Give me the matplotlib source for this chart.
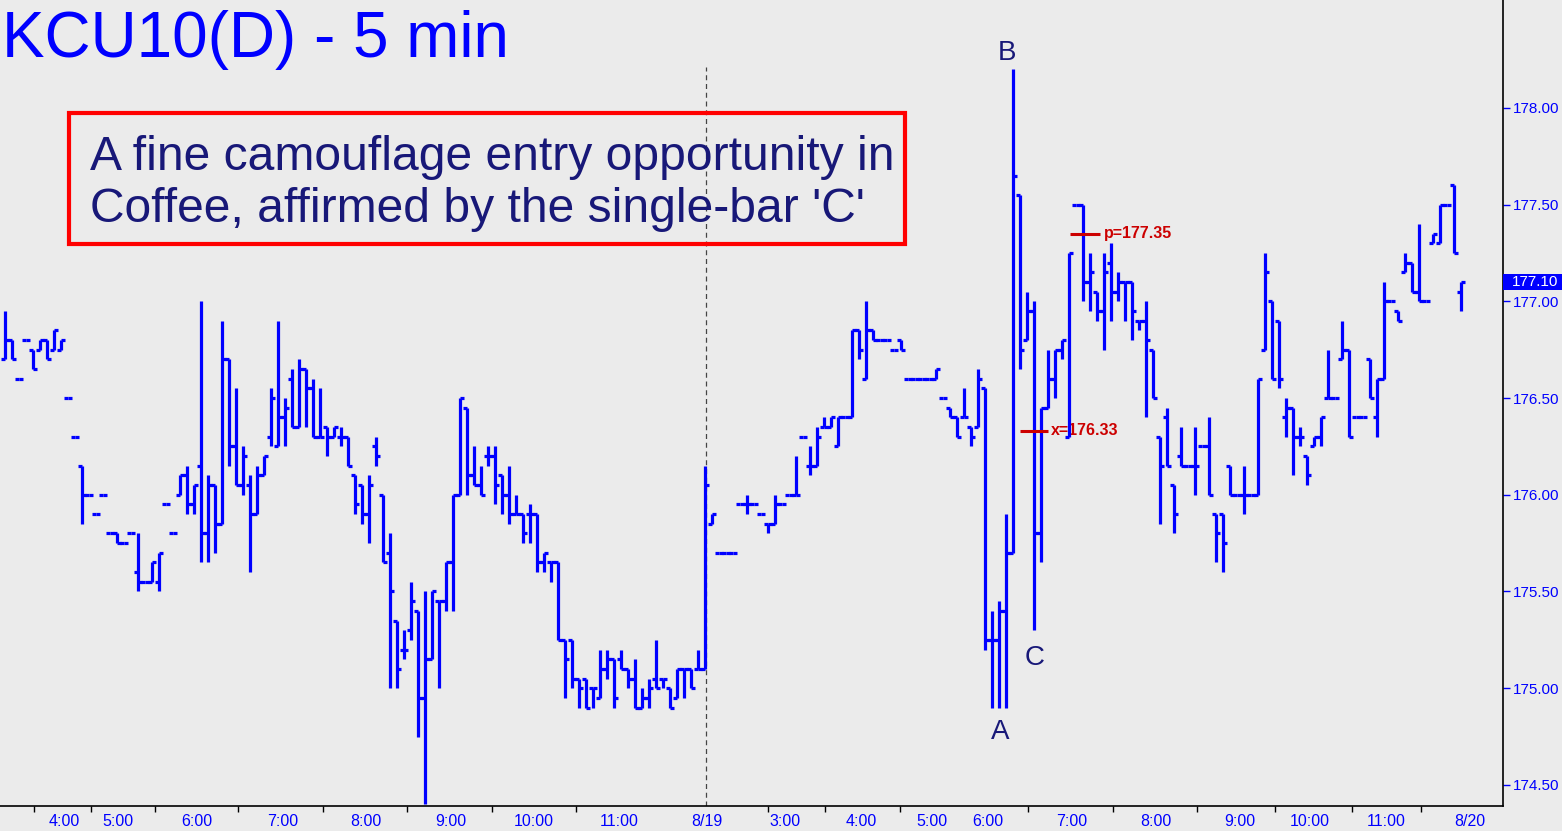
import matplotlib.pyplot as plt
import matplotlib.transforms as mtrans
from matplotlib.patches import Rectangle
import numpy as np

# 5-minute OHLC bars, KCU10, 8/18 - 8/19 sessions
opens = [176.70, 176.80, 176.60, 176.80, 176.75, 176.75, 176.80, 176.75, 176.75, 176.50,
         176.30, 176.15, 176.00, 175.90, 176.00, 175.80, 175.80, 175.75, 175.80, 175.60,
         175.55, 175.55, 175.55, 175.95, 175.80, 176.00, 176.10, 175.95, 176.15, 175.80,
         176.05, 175.85, 176.70, 176.25, 176.05, 176.05, 175.90, 176.10, 176.30, 176.25,
         176.40, 176.60, 176.35, 176.65, 176.55, 176.30, 176.35, 176.30, 176.30, 176.30,
         176.10, 176.05, 175.90, 176.25, 176.00, 175.70, 175.35, 175.20, 175.30, 175.40,
         174.95, 175.15, 175.45, 175.45, 175.65, 176.00, 176.45, 176.10, 176.05, 176.20,
         176.20, 176.10, 176.00, 175.90, 175.90, 175.90, 175.90, 175.65, 175.65, 175.65,
         175.25, 175.25, 175.05, 175.05, 175.00, 174.95, 175.10, 175.15, 175.15, 175.10,
         175.05, 174.90, 174.95, 175.05, 175.05, 175.00, 174.95, 175.10, 175.10, 175.10,
         175.10, 175.85, 175.70, 175.70, 175.70, 175.95, 175.95, 175.95, 175.90, 175.85,
         175.85, 175.95, 176.00, 176.00, 176.30, 176.15, 176.15, 176.35, 176.35, 176.25,
         176.40, 176.40, 176.85, 176.60, 176.85, 176.80, 176.80, 176.75, 176.80, 176.60,
         176.60, 176.60, 176.60, 176.60, 176.50, 176.45, 176.40, 176.40, 176.35, 176.35,
         176.55, 175.25, 175.25, 175.40, 175.70, 177.55, 176.80, 176.95, 175.80, 176.45,
         176.60, 176.75, 176.30, 177.50, 177.50, 177.10, 177.05, 176.95, 177.20, 177.05,
         177.10, 177.10, 176.90, 176.90, 176.75, 176.30, 176.40, 176.05, 176.20, 176.15,
         176.15, 176.25, 176.25, 175.90, 175.90, 176.15, 176.00, 176.00, 176.00, 176.00,
         176.75, 177.00, 176.90, 176.40, 176.45, 176.30, 176.20, 176.25, 176.30, 176.50,
         176.50, 176.70, 176.75, 176.40, 176.40, 176.70, 176.40, 176.60, 177.00, 176.95,
         177.15, 177.20, 177.05, 177.00, 177.30, 177.30, 177.50, 177.60, 177.05]

highs = [176.95, 176.80, 176.60, 176.80, 176.75, 176.80, 176.80, 176.85, 176.80, 176.50,
         176.30, 176.15, 176.00, 175.90, 176.00, 175.80, 175.80, 175.75, 175.80, 175.80,
         175.55, 175.65, 175.70, 175.95, 175.80, 176.10, 176.15, 176.05, 177.00, 176.10,
         176.05, 176.90, 176.70, 176.55, 176.25, 176.10, 176.15, 176.20, 176.55, 176.90,
         176.50, 176.65, 176.70, 176.65, 176.60, 176.55, 176.35, 176.35, 176.35, 176.30,
         176.10, 176.05, 176.10, 176.30, 176.00, 175.80, 175.35, 175.30, 175.55, 175.40,
         175.50, 175.50, 175.45, 175.65, 176.00, 176.50, 176.45, 176.25, 176.15, 176.25,
         176.25, 176.10, 176.15, 176.00, 175.90, 175.95, 175.90, 175.70, 175.65, 175.65,
         175.25, 175.25, 175.05, 175.05, 175.00, 175.20, 175.20, 175.15, 175.20, 175.10,
         175.15, 175.00, 175.05, 175.25, 175.05, 175.00, 175.10, 175.10, 175.10, 175.20,
         176.15, 175.90, 175.70, 175.70, 175.70, 175.95, 176.00, 175.95, 175.90, 175.85,
         176.00, 175.95, 176.00, 176.20, 176.30, 176.25, 176.35, 176.40, 176.40, 176.40,
         176.40, 176.85, 176.85, 177.00, 176.85, 176.80, 176.80, 176.75, 176.80, 176.60,
         176.60, 176.60, 176.60, 176.65, 176.50, 176.45, 176.40, 176.55, 176.35, 176.65,
         176.55, 175.40, 175.45, 175.90, 178.20, 177.55, 177.05, 177.00, 176.45, 176.75,
         176.75, 176.80, 177.25, 177.50, 177.50, 177.25, 177.05, 177.25, 177.30, 177.15,
         177.10, 177.10, 176.90, 177.00, 176.75, 176.30, 176.45, 176.05, 176.35, 176.15,
         176.35, 176.25, 176.40, 175.90, 175.90, 176.15, 176.00, 176.15, 176.00, 176.60,
         177.25, 177.00, 176.90, 176.50, 176.45, 176.35, 176.20, 176.30, 176.40, 176.75,
         176.50, 176.90, 176.75, 176.40, 176.40, 176.70, 176.60, 177.10, 177.00, 176.95,
         177.25, 177.20, 177.40, 177.00, 177.35, 177.50, 177.50, 177.60, 177.10]

lows = [176.70, 176.70, 176.60, 176.80, 176.65, 176.75, 176.70, 176.75, 176.75, 176.50,
        176.30, 175.85, 176.00, 175.90, 176.00, 175.80, 175.75, 175.75, 175.80, 175.50,
        175.55, 175.55, 175.50, 175.95, 175.80, 176.00, 175.90, 175.90, 175.65, 175.65,
        175.70, 175.85, 176.15, 176.05, 176.00, 175.60, 175.90, 176.10, 176.25, 176.25,
        176.25, 176.35, 176.35, 176.35, 176.30, 176.30, 176.20, 176.30, 176.25, 176.15,
        175.90, 175.85, 175.75, 176.15, 175.65, 175.00, 175.00, 175.15, 175.25, 174.75,
        174.40, 175.15, 175.00, 175.40, 175.40, 176.00, 176.00, 176.05, 176.00, 176.15,
        175.95, 175.90, 175.85, 175.90, 175.75, 175.75, 175.60, 175.60, 175.55, 175.25,
        174.95, 175.00, 174.90, 174.90, 174.90, 174.95, 175.05, 174.90, 175.10, 175.00,
        174.90, 174.90, 174.90, 175.00, 175.00, 174.90, 174.95, 174.95, 175.00, 175.10,
        175.10, 175.85, 175.70, 175.70, 175.70, 175.95, 175.90, 175.95, 175.90, 175.80,
        175.85, 175.95, 176.00, 176.00, 176.30, 176.10, 176.15, 176.35, 176.35, 176.25,
        176.40, 176.40, 176.70, 176.60, 176.80, 176.80, 176.80, 176.75, 176.75, 176.60,
        176.60, 176.60, 176.60, 176.60, 176.50, 176.40, 176.30, 176.40, 176.25, 176.35,
        175.20, 174.90, 174.90, 174.90, 175.70, 176.65, 176.80, 175.30, 175.65, 176.45,
        176.50, 176.70, 176.30, 177.50, 177.00, 176.95, 176.90, 176.75, 176.90, 177.00,
        176.90, 176.80, 176.85, 176.40, 176.50, 175.85, 176.15, 175.80, 176.15, 176.15,
        176.00, 176.25, 176.00, 175.65, 175.60, 176.00, 176.00, 175.90, 176.00, 176.00,
        176.75, 176.60, 176.55, 176.30, 176.10, 176.25, 176.05, 176.25, 176.25, 176.50,
        176.50, 176.70, 176.30, 176.40, 176.40, 176.50, 176.30, 176.60, 177.00, 176.90,
        177.15, 177.05, 177.00, 177.00, 177.30, 177.30, 177.50, 177.25, 176.95]

closes = [176.80, 176.70, 176.60, 176.80, 176.65, 176.80, 176.70, 176.85, 176.80, 176.50,
          176.30, 176.00, 176.00, 175.90, 176.00, 175.80, 175.75, 175.75, 175.80, 175.55,
          175.55, 175.65, 175.70, 175.95, 175.80, 176.10, 175.95, 176.05, 175.80, 176.05,
          175.85, 176.70, 176.25, 176.05, 176.20, 175.90, 176.10, 176.20, 176.50, 176.40,
          176.45, 176.35, 176.65, 176.55, 176.30, 176.30, 176.30, 176.35, 176.30, 176.15,
          175.95, 175.90, 176.05, 176.20, 175.65, 175.50, 175.10, 175.20, 175.45, 174.95,
          175.15, 175.50, 175.45, 175.65, 176.00, 176.50, 176.10, 176.05, 176.00, 176.20,
          176.05, 176.00, 175.90, 175.90, 175.80, 175.90, 175.65, 175.70, 175.65, 175.25,
          175.15, 175.05, 175.00, 174.90, 175.00, 175.10, 175.15, 174.95, 175.10, 175.05,
          174.90, 174.95, 175.00, 175.00, 175.05, 174.90, 175.10, 175.10, 175.00, 175.10,
          176.05, 175.90, 175.70, 175.70, 175.70, 175.95, 175.95, 175.95, 175.90, 175.85,
          175.95, 175.95, 176.00, 176.00, 176.30, 176.15, 176.30, 176.35, 176.40, 176.40,
          176.40, 176.85, 176.75, 176.85, 176.80, 176.80, 176.80, 176.75, 176.75, 176.60,
          176.60, 176.60, 176.60, 176.65, 176.50, 176.40, 176.30, 176.40, 176.30, 176.60,
          175.25, 175.25, 175.40, 175.70, 177.65, 176.75, 176.95, 175.80, 176.45, 176.60,
          176.75, 176.80, 177.25, 177.50, 177.10, 177.15, 176.95, 177.15, 177.05, 177.10,
          177.10, 176.95, 176.90, 176.80, 176.50, 176.15, 176.15, 175.90, 176.15, 176.15,
          176.15, 176.25, 176.00, 175.80, 175.75, 176.00, 176.00, 176.00, 176.00, 176.60,
          177.15, 176.60, 176.60, 176.45, 176.30, 176.30, 176.10, 176.30, 176.40, 176.50,
          176.50, 176.75, 176.30, 176.40, 176.40, 176.50, 176.60, 177.00, 177.00, 176.90,
          177.20, 177.05, 177.00, 177.00, 177.35, 177.50, 177.50, 177.25, 177.10]

# time axis (bar index positions)
hour_pos = [8.4, 16.1, 27.4, 39.6, 51.6, 63.7, 75.6, 87.7, 100.2, 111.4,
            122.3, 132.4, 140.4, 152.4, 164.4, 176.4, 186.4, 197.3, 209.3]
hour_labels = ['4:00', '5:00', '6:00', '7:00', '8:00', '9:00', '10:00', '11:00', '8/19', '3:00',
               '4:00', '5:00', '6:00', '7:00', '8:00', '9:00', '10:00', '11:00', '8/20']
tick_marks = [4.1, 12.3, 21.4, 33.3, 45.4, 57.4, 69.6, 81.6, 100.2, 109.0,
              117.1, 127.9, 146.1, 158.3, 170.3, 181.4, 192.4, 202.3, 209.3]
price_ticks = [174.5, 175.0, 175.5, 176.0, 176.5, 177.0, 177.5, 178.0]

# A-B-C pattern and targets
abc_labels = ['A', 'B', 'C']
abc_x = [142.1, 143.1, 147.1]
abc_y = [174.737, 178.248, 175.120]
p_level = 177.35
x_level = 176.33
session_break = 100.2

BG = '#ebebeb'
BLUE = '#0000ff'
NAVY = '#181878'
RED = '#cc0000'

plt.rcParams['font.family'] = ['Liberation Sans', 'DejaVu Sans']

fig = plt.figure(figsize=(15.62, 8.31), dpi=100, facecolor=BG)
ax = fig.add_axes([0, 1 - 806 / 831, 1503 / 1562, 806 / 831])
ax.set_facecolor(BG)

ymin, ymax = 174.391, 178.558
ax.set_xlim(-0.714, 214.0)
ax.set_ylim(ymin, ymax)

# session divider
ax.vlines(session_break, ymin, 178.21, colors='#444444', linestyles=(0, (4, 3)), lw=0.9, zorder=1)

x = np.arange(len(closes))
ax.vlines(x, lows, highs, color=BLUE, lw=2.3, zorder=2)
ax.hlines(opens, x - 0.62, x, color=BLUE, lw=2.3, zorder=2)
ax.hlines(closes, x, x + 0.62, color=BLUE, lw=2.3, zorder=2)

for lab, lx, ly in zip(abc_labels, abc_x, abc_y):
    ax.text(lx, ly, lab, fontsize=20, color=NAVY, ha='center', va='baseline')

ax.hlines(p_level, 152.1, 156.4, color=RED, lw=2.2, zorder=4)
ax.text(157.0, p_level, 'p=%.2f' % p_level, color=RED, fontsize=11.5, fontweight='bold',
        va='center', ha='left', zorder=1.5)
ax.hlines(x_level, 145.0, 149.0, color=RED, lw=2.2, zorder=4)
ax.text(149.4, x_level, 'x=%.2f' % x_level, color=RED, fontsize=11.5, fontweight='bold',
        va='center', ha='left', zorder=1.5)

# axes styling
for side in ['top', 'left']:
    ax.spines[side].set_visible(False)
for side in ['right', 'bottom']:
    ax.spines[side].set_color('black')
    ax.spines[side].set_linewidth(1.2)

ax.yaxis.tick_right()
ax.set_yticks(price_ticks, ['%.2f' % p for p in price_ticks])
ax.tick_params(axis='y', colors=BLUE, length=5, width=1, labelsize=11, pad=2)

ax.set_xticks(hour_pos, hour_labels)
ax.tick_params(axis='x', which='major', length=0, labelcolor=BLUE, labelsize=11.5, pad=6)
ax.set_xticks(tick_marks, minor=True)
ax.tick_params(axis='x', which='minor', length=4, width=1, color='black')

# last price tag
trans = mtrans.blended_transform_factory(ax.transAxes, ax.transData)
ax.add_patch(Rectangle((1.0, closes[-1] - 0.039), 0.04, 0.078, transform=trans,
                       facecolor=BLUE, edgecolor='none', clip_on=False, zorder=6))
ax.text(1.0 + 32 / 1503, closes[-1], '%.2f' % closes[-1], transform=trans, color='white',
        fontsize=11, ha='center', va='center', clip_on=False, zorder=7)

# title and comment box
fig.text(2 / 1562, 1 - 57 / 831, 'KCU10(D) - 5 min', fontsize=46, color=BLUE,
         ha='left', va='baseline')
fig.add_artist(Rectangle((69 / 1562, 1 - 244 / 831), 836 / 1562, 131 / 831,
                         transform=fig.transFigure, fill=False, edgecolor='#ff0000', lw=3))
fig.text(90 / 1562, 1 - 170 / 831, 'A fine camouflage entry opportunity in',
         fontsize=34.6, color=NAVY, ha='left', va='baseline')
fig.text(90 / 1562, 1 - 222 / 831, "Coffee, affirmed by the single-bar 'C'",
         fontsize=34.6, color=NAVY, ha='left', va='baseline')

fig.savefig('out.png', dpi=100, facecolor=BG)
